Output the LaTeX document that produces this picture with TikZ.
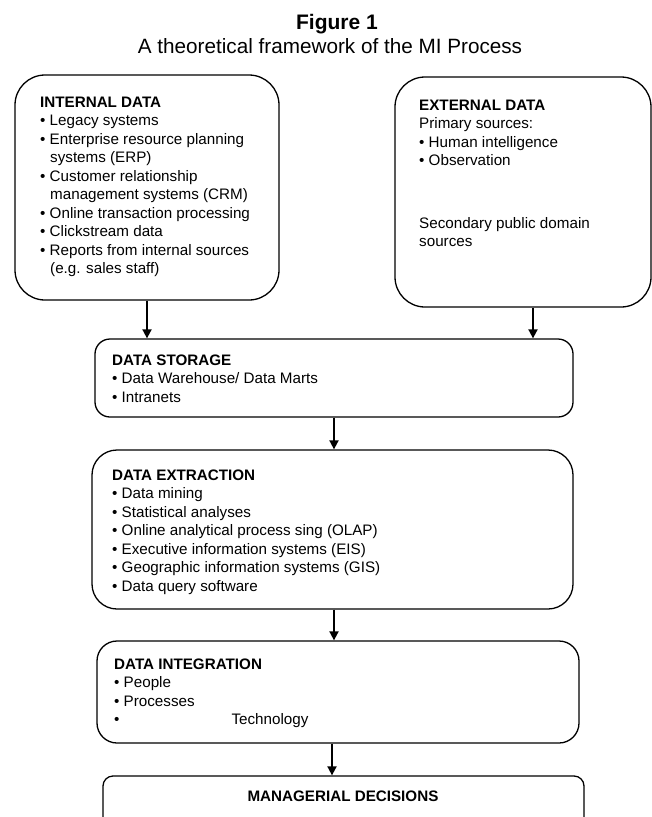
\documentclass[tikz,border=0pt]{standalone}
\usepackage{fontspec}
\setmainfont{Liberation Sans}
\usepackage{tikz}
\usetikzlibrary{arrows.meta,positioning}
\tikzset{font=\fontsize{15.2}{18.5}\selectfont}
\tikzstyle{frame}=[draw,line width=1.3pt,inner sep=0pt]
\tikzstyle{txt}=[anchor=base west,align=left,inner sep=0pt]
\tikzstyle{arr}=[line width=1.8pt,-{Triangle[length=9pt,width=9pt]}]
\newcommand{\hang}{\hspace*{10pt}}
\begin{document}
\begin{tikzpicture}[x=1pt,y=-1pt]
\useasboundingbox (0,0) rectangle (651,817);
\node (fig) at (337,29) [anchor=base] {\fontsize{21}{24}\selectfont\bfseries Figure 1};
\node (sub) at (330,53) [anchor=base] {\fontsize{20.7}{24}\selectfont A theoretical framework of the MI Process};
\node[frame,rounded corners=30pt,minimum width=264pt,minimum height=225pt] (int) at (147,187.5) {};
\node[frame,rounded corners=30pt,minimum width=256pt,minimum height=230pt] (ext) at (523,192) {};
\node[frame,rounded corners=15pt,minimum width=478pt,minimum height=78pt] (store) at (334,378) {};
\node[frame,rounded corners=25pt,minimum width=481pt,minimum height=159pt] (extr) at (332.5,529.5) {};
\node[frame,rounded corners=20pt,minimum width=482pt,minimum height=102pt] (integ) at (338,692) {};
\node[frame,rounded corners=10pt,minimum width=481pt,minimum height=54pt] (dec) at (343.5,803) {};
\node[txt] (intT) at (40,273.5) {\bfseries INTERNAL DATA\\
• Legacy systems\\
• Enterprise resource planning\\
\hang systems (ERP)\\
• Customer relationship\\
\hang management systems (CRM)\\
• Online transaction processing\\
• Clickstream data\\
• Reports from internal sources\\
\hang (e.g. sales staff)};
\node[txt] (extT) at (419,246.5) {\bfseries EXTERNAL DATA\\
Primary sources:\\
• Human intelligence\\
• Observation\\[44pt]
Secondary public domain\\
sources};
\node[txt] (storeT) at (112,402) {\bfseries DATA STORAGE\\
• Data Warehouse/ Data Marts\\
• Intranets};
\node[txt] (extrT) at (112,591) {\bfseries DATA EXTRACTION\\
• Data mining\\
• Statistical analyses\\
• Online analytical process sing (OLAP)\\
• Executive information systems (EIS)\\
• Geographic information systems (GIS)\\
• Data query software};
\node[txt] (integT) at (114,724.5) {\bfseries DATA INTEGRATION\\
• People\\
• Processes\\
•\hspace{112pt}Technology};
\node (decT) at (343,801) [anchor=base] {\bfseries MANAGERIAL DECISIONS};
\path[arr]
(int.south) edge (int.south |- store.north)
([xshift=10pt]ext.south) edge ([xshift=10pt]ext.south |- store.north)
(store.south) edge (store.south |- extr.north)
([xshift=1.5pt]extr.south) edge ([xshift=1.5pt]extr.south |- integ.north)
([xshift=-6pt]integ.south) edge ([xshift=-6pt]integ.south |- dec.north);
\end{tikzpicture}
\end{document}
